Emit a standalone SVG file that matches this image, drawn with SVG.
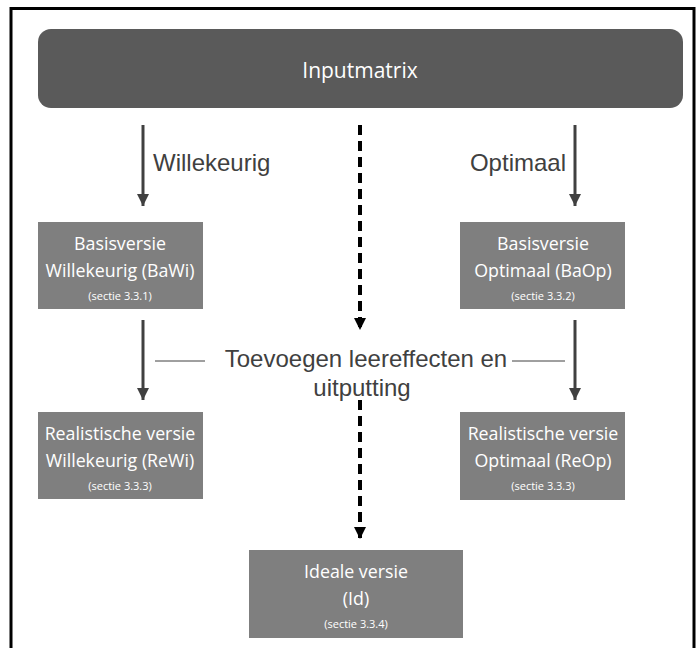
<svg xmlns="http://www.w3.org/2000/svg" width="696" height="648" viewBox="0 0 696 648">
<defs>
<style>
.box{fill:#7f7f7f}
.bt{font-family:"Open Sans","Liberation Sans",sans-serif;fill:#fff;text-anchor:middle}
.big{font-size:17.8px}
.small{font-size:11px}
.lbl{font-family:"Liberation Sans",Arial,sans-serif;fill:#404040;font-size:24px}
.arr{stroke:#404040;stroke-width:3;fill:none}
.dash{stroke:#000;stroke-width:4;fill:none;stroke-dasharray:10 6}
.thin{stroke:#404040;stroke-width:1;fill:none}
</style>
<marker id="ah" viewBox="0 0 10 10" refX="10" refY="5" markerWidth="12" markerHeight="12" markerUnits="userSpaceOnUse" orient="auto"><path d="M0,0L10,5L0,10z" fill="#404040"/></marker>
<marker id="ahd" viewBox="0 0 10 10" refX="10" refY="5" markerWidth="12" markerHeight="12" markerUnits="userSpaceOnUse" orient="auto"><path d="M0,0L10,5L0,10z" fill="#000"/></marker>
</defs>
<rect width="696" height="648" fill="#fff"/>
<path d="M11,660V8.5H694V660" fill="none" stroke="#000" stroke-width="3"/>
<g id="inputmatrix">
<rect x="38" y="29" width="645" height="79" rx="13" fill="#5a5a5a"/>
<text class="bt" x="360" y="78" font-size="21">Inputmatrix</text>
</g>
<g id="connectors">
<line class="arr" x1="143" y1="125" x2="143" y2="206" marker-end="url(#ah)"/>
<line class="arr" x1="575" y1="125" x2="575" y2="206" marker-end="url(#ah)"/>
<line class="arr" x1="143" y1="320" x2="143" y2="400" marker-end="url(#ah)"/>
<line class="arr" x1="575" y1="320" x2="575" y2="400" marker-end="url(#ah)"/>
<line class="dash" x1="360" y1="125" x2="360" y2="330" marker-end="url(#ahd)"/>
<line class="dash" x1="360" y1="400" x2="360" y2="539" marker-end="url(#ahd)"/>
<line class="thin" x1="155" y1="361" x2="205" y2="361"/>
<line class="thin" x1="512" y1="361" x2="565" y2="361"/>
<text class="lbl" x="153" y="171">Willekeurig</text>
<text class="lbl" x="566" y="171" text-anchor="end">Optimaal</text>
<text class="lbl" x="366" y="367" text-anchor="middle" font-size="25.5">Toevoegen leereffecten en</text>
<text class="lbl" x="362" y="396" text-anchor="middle" font-size="25.5">uitputting</text>
</g>
<g id="bawi">
<rect class="box" x="38" y="222" width="165" height="87"/>
<text class="bt big" x="120" y="250">Basisversie</text>
<text class="bt big" x="120" y="277">Willekeurig (BaWi)</text>
<text class="bt small" x="120" y="300">(sectie 3.3.1)</text>
</g>
<g id="baop">
<rect class="box" x="460" y="222" width="165" height="87"/>
<text class="bt big" x="543" y="250">Basisversie</text>
<text class="bt big" x="543" y="277">Optimaal (BaOp)</text>
<text class="bt small" x="543" y="300">(sectie 3.3.2)</text>
</g>
<g id="rewi">
<rect class="box" x="38" y="412" width="165" height="87"/>
<text class="bt big" x="120" y="440">Realistische versie</text>
<text class="bt big" x="120" y="467">Willekeurig (ReWi)</text>
<text class="bt small" x="120" y="490">(sectie 3.3.3)</text>
</g>
<g id="reop">
<rect class="box" x="460" y="412" width="165" height="88"/>
<text class="bt big" x="543" y="440">Realistische versie</text>
<text class="bt big" x="543" y="467">Optimaal (ReOp)</text>
<text class="bt small" x="543" y="490">(sectie 3.3.3)</text>
</g>
<g id="id">
<rect class="box" x="249" y="550" width="214" height="88"/>
<text class="bt big" x="356" y="578">Ideale versie</text>
<text class="bt big" x="356" y="605">(Id)</text>
<text class="bt small" x="356" y="628">(sectie 3.3.4)</text>
</g>
</svg>
